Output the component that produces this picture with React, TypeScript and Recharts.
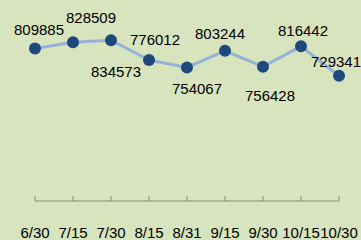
import React from "react";
import { LineChart, Line, XAxis, YAxis, LabelList } from "recharts";

// dates on the x axis
const dates = ["6/30", "7/15", "7/30", "8/15", "8/31", "9/15", "9/30", "10/15", "10/30"];

// series values
const values = [809885, 828509, 834573, 776012, 754067, 803244, 756428, 816442, 729341];

// label nudges (dx, dy from the dot centre), hand placed like in the original
const labelNudge: [number, number][] = [
  [4, -19],
  [18, -25],
  [5, 31],
  [6, -21],
  [10, 21],
  [-5, -17],
  [7, 29],
  [2, -16],
  [-3, -14],
];

const data = dates.map((d, i) => ({ date: d, value: values[i] }));

const FONT = "'Liberation Sans', Arial, sans-serif";

const DateTick = (props: any) => {
  const { x, y, payload } = props;
  return (
    <g>
      <line x1={x} y1={y - 5} x2={x} y2={y} stroke="#868686" strokeWidth={1} />
      <text x={x} y={y + 37} textAnchor="middle" fontSize={15} fontFamily={FONT} fill="#000">
        {payload.value}
      </text>
    </g>
  );
};

const ValueLabel = (props: any) => {
  const { x, y, value, index } = props;
  const [dx, dy] = labelNudge[index] || [0, -15];
  return (
    <text
      x={x + dx}
      y={y + dy}
      textAnchor="middle"
      dominantBaseline="central"
      fontSize={15}
      fontFamily={FONT}
      fill="#000"
    >
      {value}
    </text>
  );
};

export default function App() {
  return (
    <div
      style={{
        position: "absolute",
        left: 0,
        top: 0,
        width: 361,
        height: 240,
        background: "#d7e4bd",
        overflow: "hidden",
      }}
    >
      <LineChart width={361} height={240} data={data} margin={{ top: 18, right: 22, left: 35, bottom: 0 }}>
        <XAxis
          dataKey="date"
          height={39}
          interval={0}
          padding={{ left: 0, right: 0 }}
          tickLine={false}
          tickSize={0}
          tickMargin={0}
          axisLine={{ stroke: "#868686", strokeWidth: 1 }}
          tick={<DateTick />}
        />
        <YAxis hide domain={[360000, 900000]} />
        <Line
          dataKey="value"
          stroke="#95b3d7"
          strokeWidth={3}
          dot={{ r: 6, fill: "#1f497d", stroke: "none" }}
          activeDot={false}
          isAnimationActive={false}
        >
          <LabelList dataKey="value" content={<ValueLabel />} />
        </Line>
      </LineChart>
    </div>
  );
}
